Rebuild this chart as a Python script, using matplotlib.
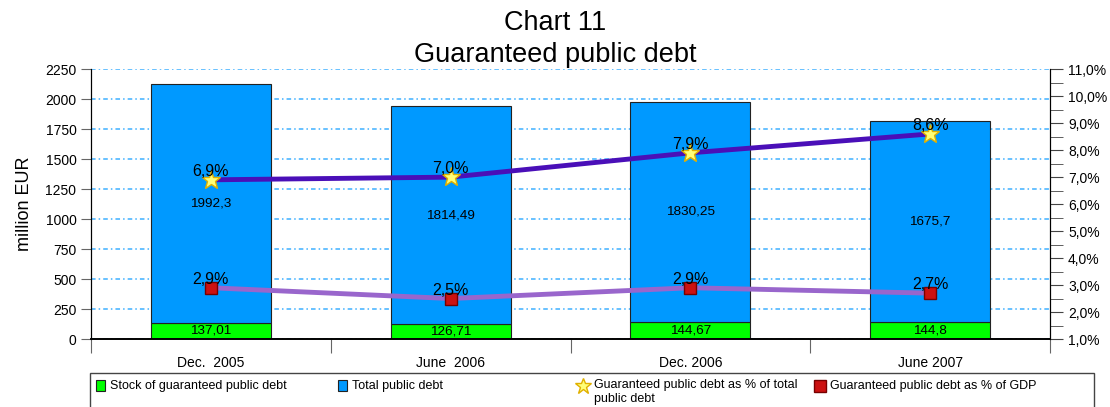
import numpy as np
import matplotlib as mpl
mpl.use('Agg')
import matplotlib.pyplot as plt
from matplotlib.lines import Line2D
from matplotlib.patches import Rectangle
from matplotlib.ticker import FuncFormatter, MultipleLocator

plt.rcParams['font.family'] = ['Liberation Sans', 'DejaVu Sans']

categories = ["Dec.  2005", "June  2006", "Dec. 2006", "June 2007"]
stock_guaranteed = [137.01, 126.71, 144.67, 144.8]
total_debt = [1992.3, 1814.49, 1830.25, 1675.7]
pct_of_total = [6.9, 7.0, 7.9, 8.6]
pct_of_gdp = [2.9, 2.5, 2.9, 2.7]

GREEN = "#00ff00"
BLUE = "#0099ff"
STAR_FC, STAR_EC = "#ffff77", "#e0b000"
SQ_FC, SQ_EC = "#cc1111", "#770000"


def comma(v, fmt):
    return (fmt % v).replace(".", ",")


fig = plt.figure(figsize=(11.1, 4.07), dpi=100)
ax = fig.add_axes([0.082, 0.167, 0.864, 0.663])
x = np.arange(len(categories))

ax.bar(x, stock_guaranteed, width=0.5, color=GREEN, edgecolor="#222222", linewidth=0.8, zorder=2)
ax.bar(x, total_debt, width=0.5, bottom=stock_guaranteed, color=BLUE,
       edgecolor="#222222", linewidth=0.8, zorder=2)

for i in x:
    ax.text(i, stock_guaranteed[i] / 2, comma(stock_guaranteed[i], "%g"), ha="center", va="center",
            fontsize=9.7, zorder=5)
    ax.text(i, stock_guaranteed[i] + total_debt[i] / 2, comma(total_debt[i], "%g"), ha="center",
            va="center", fontsize=9.7, zorder=5)

ax.set_xlim(-0.5, 3.5)
ax.set_ylim(0, 2250)
ax.yaxis.set_major_locator(MultipleLocator(250))
ax.grid(axis="y", color="#3fb0ff", linestyle=(0, (3, 2, 1, 2)), linewidth=1.1, zorder=0)
ax.set_ylabel("million EUR", fontsize=13, labelpad=9)
ax.tick_params(axis="y", labelsize=10, length=7.5, pad=3, color="#666666")
ax.set_xticks(np.arange(-0.5, 4.0, 1.0))
ax.set_xticklabels([])
ax.set_xticks(x, minor=True)
ax.set_xticklabels(categories, minor=True, fontsize=10)
ax.tick_params(axis="x", which="major", length=10, color="#666666")
ax.tick_params(axis="x", which="minor", length=0, pad=12)
ax.spines["top"].set_visible(False)
ax.spines["bottom"].set_zorder(6)
ax.spines["bottom"].set_color("black")
ax.spines["bottom"].set_linewidth(1.2)

ax2 = ax.twinx()
ax2.set_ylim(1, 11)
ax2.yaxis.set_major_locator(MultipleLocator(1))
ax2.yaxis.set_minor_locator(MultipleLocator(0.5))
ax2.yaxis.set_major_formatter(FuncFormatter(lambda v, p: comma(v, "%.1f") + "%"))
ax2.tick_params(axis="y", which="both", labelsize=10, length=9, pad=4, color="#444444")
ax2.spines["top"].set_visible(False)
ax2.spines["bottom"].set_color("black")
ax2.spines["bottom"].set_linewidth(1.2)

ax2.plot(x, pct_of_total, color="#4a0fb8", linewidth=3.5, zorder=3)
ax2.plot(x, pct_of_gdp, color="#9966cc", linewidth=3.5, zorder=3)
ax2.plot(x, pct_of_total, linestyle="none", marker="*", markersize=14, markerfacecolor=STAR_FC,
         markeredgecolor=STAR_EC, zorder=4)
ax2.plot(x, pct_of_gdp, linestyle="none", marker="s", markersize=9, markerfacecolor=SQ_FC,
         markeredgecolor=SQ_EC, zorder=4)
for i in x:
    ax2.text(i, pct_of_total[i] + 0.03, comma(pct_of_total[i], "%.1f") + "%", ha="center", va="bottom",
             fontsize=11.5, zorder=5)
    ax2.text(i, pct_of_gdp[i] + 0.03, comma(pct_of_gdp[i], "%.1f") + "%", ha="center", va="bottom",
             fontsize=11.5, zorder=5)

fig.text(0.5, 1 - 10 / 407, "Chart 11\nGuaranteed public debt", ha="center", va="top",
         fontsize=19.5, linespacing=1.3)

# legend box along the bottom edge
W, H = 1110.0, 407.0
fig.add_artist(Rectangle((90 / W, -0.01), 1004 / W, 1 - 373 / H + 0.01, transform=fig.transFigure,
                         facecolor="white", edgecolor="#444444", linewidth=1.0))
ty = 1 - 386 / H
LFS = 9
fig.add_artist(Rectangle((96 / W, ty - 5 / H), 9 / W, 11 / H, transform=fig.transFigure,
                         facecolor=GREEN, edgecolor="#222222", linewidth=0.8))
fig.text(110 / W, ty, "Stock of guaranteed public debt", fontsize=LFS, va="center")
fig.add_artist(Rectangle((338 / W, ty - 5 / H), 9 / W, 11 / H, transform=fig.transFigure,
                         facecolor=BLUE, edgecolor="#222222", linewidth=0.8))
fig.text(352 / W, ty, "Total public debt", fontsize=LFS, va="center")
fig.add_artist(Line2D([583 / W], [ty], transform=fig.transFigure, marker="*", markersize=12,
                      markerfacecolor=STAR_FC, markeredgecolor=STAR_EC, linestyle="none"))
fig.text(594 / W, ty + 7 / H, "Guaranteed public debt as % of total\npublic debt", fontsize=LFS,
         va="top", linespacing=1.25)
fig.add_artist(Line2D([820 / W], [ty], transform=fig.transFigure, marker="s", markersize=8,
                      markerfacecolor=SQ_FC, markeredgecolor=SQ_EC, linestyle="none"))
fig.text(830 / W, ty, "Guaranteed public debt as % of GDP", fontsize=LFS, va="center")

fig.savefig("out.png", dpi=100)
